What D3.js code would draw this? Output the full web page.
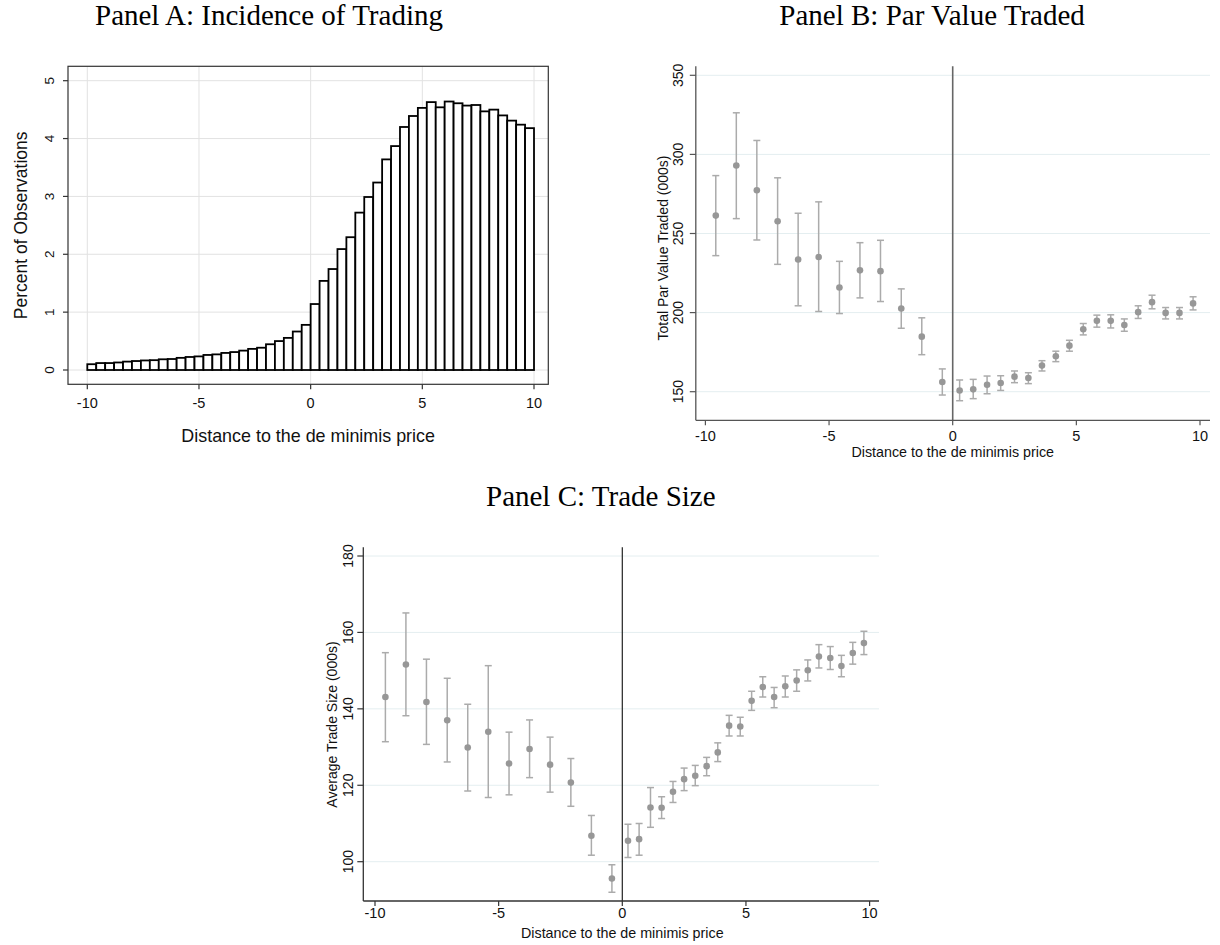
<!DOCTYPE html>
<meta charset="utf-8">
<style>
  body { margin: 0; background: white; }
  svg { display: block; background: white; }
  .title { font-family: "Liberation Serif", "Times New Roman", serif; font-size: 29px; fill: #000; }
  .tick-label { font-family: "Liberation Sans", Arial, sans-serif; fill: #111; }
  .axis-title { font-family: "Liberation Sans", Arial, sans-serif; fill: #111; }
</style>
<body>
<div id="chart"></div>
<script src="https://d3js.org/d3.v7.min.js"></script>
<script>
// ---- data ----
// Panel A: histogram, 50 bins of width 0.4 from -10 to 10
var binWidth = 0.4;
var histPct = [0.10, 0.12, 0.12, 0.13, 0.145, 0.155, 0.165, 0.17, 0.185, 0.19,
               0.21, 0.225, 0.235, 0.26, 0.27, 0.295, 0.31, 0.335, 0.365, 0.385,
               0.445, 0.50, 0.555, 0.665, 0.78, 1.14, 1.54, 1.745, 2.09, 2.295,
               2.72, 2.99, 3.24, 3.64, 3.87, 4.20, 4.39, 4.53, 4.63, 4.54,
               4.64, 4.61, 4.57, 4.58, 4.47, 4.50, 4.40, 4.31, 4.24, 4.18];

// Panel B: total par value traded (000s), mean and 95% CI
var parX = [-9.58, -8.75, -7.92, -7.08, -6.25, -5.42, -4.58, -3.75, -2.92, -2.08, -1.25, -0.42,
            0.28, 0.83, 1.39, 1.94, 2.50, 3.06, 3.61, 4.17, 4.72, 5.28, 5.83, 6.39, 6.94, 7.50, 8.06, 8.61, 9.17, 9.72];
var parMean = [261.3, 293.0, 277.3, 257.7, 233.6, 235.1, 215.9, 226.7, 226.2, 202.6, 184.8, 156.1,
               150.8, 151.5, 154.4, 155.5, 159.5, 158.7, 166.5, 172.4, 179.1, 189.5, 194.8, 194.8, 192.2, 200.3, 206.6, 199.8, 199.8, 205.8];
var parHi = [286.6, 326.3, 308.8, 285.2, 262.8, 270.0, 232.4, 244.2, 245.7, 215.0, 196.7, 164.4,
             157.4, 157.8, 159.9, 160.1, 163.1, 162.0, 169.6, 175.6, 182.5, 193.1, 198.4, 198.6, 196.0, 204.3, 211.0, 203.2, 203.2, 210.0];
var parLo = [236.0, 259.4, 245.9, 230.5, 204.3, 200.7, 199.4, 209.3, 207.0, 190.1, 173.4, 147.9,
             144.3, 145.6, 148.7, 150.8, 155.7, 155.1, 163.1, 169.0, 175.6, 185.9, 190.8, 190.3, 188.2, 196.3, 202.4, 196.0, 196.0, 201.7];

// Panel C: average trade size (000s), mean and 95% CI
var sizeX = [-9.58, -8.75, -7.92, -7.08, -6.25, -5.42, -4.58, -3.75, -2.92, -2.08, -1.25, -0.42,
             0.23, 0.68, 1.14, 1.59, 2.05, 2.50, 2.95, 3.41, 3.86, 4.32, 4.77, 5.23, 5.68, 6.14, 6.59, 7.05, 7.50, 7.95, 8.41, 8.86, 9.32, 9.77];
var sizeMean = [143.1, 151.6, 141.8, 137.0, 129.9, 134.0, 125.7, 129.5, 125.4, 120.7, 106.8, 95.6,
                105.5, 105.9, 114.2, 114.1, 118.3, 121.6, 122.5, 125.0, 128.6, 135.6, 135.4, 142.1, 145.7, 143.1, 145.9, 147.4, 150.1, 153.7, 153.3, 151.2, 154.6, 157.2];
var sizeHi = [154.7, 165.1, 153.0, 148.0, 141.2, 151.3, 133.9, 137.1, 132.6, 127.0, 112.1, 99.2,
              109.8, 110.0, 119.4, 117.0, 121.0, 124.5, 125.2, 127.3, 131.1, 138.3, 137.8, 144.6, 148.4, 145.6, 148.6, 150.2, 152.8, 156.8, 156.3, 154.0, 157.4, 160.3];
var sizeLo = [131.4, 138.2, 130.7, 126.1, 118.5, 116.8, 117.5, 122.0, 118.2, 114.5, 101.7, 92.0,
              101.1, 101.7, 109.0, 111.3, 115.5, 118.6, 119.9, 122.5, 126.2, 132.9, 132.9, 139.6, 143.1, 140.3, 143.1, 144.6, 147.3, 150.7, 150.3, 148.4, 151.7, 154.2];

var xTicks = [-10, -5, 0, 5, 10];
var histYTicks = [0, 1, 2, 3, 4, 5];
var parYTicks = [150, 200, 250, 300, 350];
var sizeYTicks = [100, 120, 140, 160, 180];

var xLabel = "Distance to the de minimis price";

var svg = d3.select("#chart").append("svg")
    .attr("width", 1220)
    .attr("height", 945);

// ---------------- Panel A ----------------
(function() {
  var x = d3.scaleLinear().domain([-10, 10]).range([87.3, 534]);
  var y = d3.scaleLinear().domain([0, 5]).range([370, 80.7]);
  var left = 68, right = 548.3, top = 66.3, bottom = 384.3;
  var g = svg.append("g");

  g.append("text").attr("class", "title").attr("x", 95).attr("y", 25).text("Panel A: Incidence of Trading");

  // grid
  g.selectAll(".vgrid").data(xTicks).enter().append("line")
    .attr("x1", d => x(d)).attr("x2", d => x(d))
    .attr("y1", top).attr("y2", bottom)
    .attr("stroke", "#e2e2e2").attr("stroke-width", 1);
  g.selectAll(".hgrid").data(histYTicks).enter().append("line")
    .attr("x1", left).attr("x2", right)
    .attr("y1", d => y(d)).attr("y2", d => y(d))
    .attr("stroke", "#e2e2e2").attr("stroke-width", 1);

  // bars
  g.selectAll(".bar").data(histPct).enter().append("rect")
    .attr("x", (d, i) => x(-10 + i * binWidth))
    .attr("width", (d, i) => x(-10 + (i + 1) * binWidth) - x(-10 + i * binWidth))
    .attr("y", d => y(d))
    .attr("height", d => y(0) - y(d))
    .attr("fill", "white").attr("stroke", "#000").attr("stroke-width", 1.8);

  // frame
  g.append("rect").attr("x", left).attr("y", top)
    .attr("width", right - left).attr("height", bottom - top)
    .attr("fill", "none").attr("stroke", "#333").attr("stroke-width", 1.2);

  // x ticks
  g.selectAll(".xt").data(xTicks).enter().append("line")
    .attr("x1", d => x(d)).attr("x2", d => x(d))
    .attr("y1", bottom).attr("y2", bottom + 5)
    .attr("stroke", "#333").attr("stroke-width", 1.2);
  g.selectAll(".xl").data(xTicks).enter().append("text")
    .attr("class", "tick-label").attr("font-size", 14.5)
    .attr("x", d => x(d)).attr("y", 408.3).attr("text-anchor", "middle")
    .text(d => d);

  // y ticks
  g.selectAll(".yt").data(histYTicks).enter().append("line")
    .attr("x1", left - 5).attr("x2", left)
    .attr("y1", d => y(d)).attr("y2", d => y(d))
    .attr("stroke", "#333").attr("stroke-width", 1.2);
  g.selectAll(".yl").data(histYTicks).enter().append("text")
    .attr("class", "tick-label").attr("font-size", 13.5)
    .attr("text-anchor", "middle")
    .attr("transform", d => "translate(54," + y(d) + ") rotate(-90)")
    .text(d => d);

  g.append("text").attr("class", "axis-title").attr("font-size", 17.9)
    .attr("x", (left + right) / 2).attr("y", 441.7).attr("text-anchor", "middle")
    .text(xLabel);
  g.append("text").attr("class", "axis-title").attr("font-size", 17.5)
    .attr("text-anchor", "middle")
    .attr("transform", "translate(27," + (top + bottom) / 2 + ") rotate(-90)")
    .text("Percent of Observations");
})();

// ------------- dot + CI panels -------------
function ciPanel(opt) {
  var x = d3.scaleLinear().domain([-10, 10]).range(opt.xRange);
  var y = d3.scaleLinear().domain(opt.yDomain).range(opt.yRange);
  var g = svg.append("g");

  g.append("text").attr("class", "title").attr("x", opt.titleX).attr("y", opt.titleY).text(opt.title);

  g.selectAll(".hgrid").data(opt.yTicks).enter().append("line")
    .attr("x1", opt.left).attr("x2", opt.right)
    .attr("y1", d => y(d)).attr("y2", d => y(d))
    .attr("stroke", "#e4eef0").attr("stroke-width", 1);

  // zero reference line
  g.append("line")
    .attr("x1", x(0)).attr("x2", x(0))
    .attr("y1", opt.top).attr("y2", opt.bottom)
    .attr("stroke", opt.zeroColor).attr("stroke-width", opt.zeroWidth);

  var pts = opt.xs.map((v, i) => ({x: v, m: opt.mean[i], lo: opt.lo[i], hi: opt.hi[i]}));

  var cap = 3.5;
  var eb = g.selectAll(".eb").data(pts).enter().append("g")
    .attr("stroke", "#ababab").attr("stroke-width", 1.5);
  eb.append("line").attr("x1", d => x(d.x)).attr("x2", d => x(d.x))
    .attr("y1", d => y(d.lo)).attr("y2", d => y(d.hi));
  eb.append("line").attr("x1", d => x(d.x) - cap).attr("x2", d => x(d.x) + cap)
    .attr("y1", d => y(d.hi)).attr("y2", d => y(d.hi));
  eb.append("line").attr("x1", d => x(d.x) - cap).attr("x2", d => x(d.x) + cap)
    .attr("y1", d => y(d.lo)).attr("y2", d => y(d.lo));

  g.selectAll(".pt").data(pts).enter().append("circle")
    .attr("cx", d => x(d.x)).attr("cy", d => y(d.m)).attr("r", 3.3)
    .attr("fill", "#979797");

  // axes lines
  g.append("line").attr("x1", opt.left).attr("x2", opt.left)
    .attr("y1", opt.top).attr("y2", opt.bottom)
    .attr("stroke", opt.axisColor).attr("stroke-width", 1.3);
  g.append("line").attr("x1", opt.left).attr("x2", opt.right)
    .attr("y1", opt.bottom).attr("y2", opt.bottom)
    .attr("stroke", opt.axisColor).attr("stroke-width", 1.3);

  g.selectAll(".xt").data(xTicks).enter().append("line")
    .attr("x1", d => x(d)).attr("x2", d => x(d))
    .attr("y1", opt.bottom).attr("y2", opt.bottom + 5)
    .attr("stroke", opt.axisColor).attr("stroke-width", 1.2);
  g.selectAll(".xl").data(xTicks).enter().append("text")
    .attr("class", "tick-label").attr("font-size", 14.5)
    .attr("x", d => x(d)).attr("y", opt.xLabelY).attr("text-anchor", "middle")
    .text(d => d);

  g.selectAll(".yt").data(opt.yTicks).enter().append("line")
    .attr("x1", opt.left - 6).attr("x2", opt.left)
    .attr("y1", d => y(d)).attr("y2", d => y(d))
    .attr("stroke", opt.axisColor).attr("stroke-width", 1.2);
  g.selectAll(".yl").data(opt.yTicks).enter().append("text")
    .attr("class", "tick-label").attr("font-size", 14)
    .attr("text-anchor", "middle")
    .attr("transform", d => "translate(" + opt.yLabelX + "," + y(d) + ") rotate(-90)")
    .text(d => d);

  g.append("text").attr("class", "axis-title").attr("font-size", 14.3)
    .attr("x", x(0)).attr("y", opt.xTitleY).attr("text-anchor", "middle")
    .text(xLabel);
  g.append("text").attr("class", "axis-title").attr("font-size", 14)
    .attr("text-anchor", "middle")
    .attr("transform", "translate(" + opt.yTitleX + "," + opt.yTitleCenter + ") rotate(-90)")
    .text(opt.yTitle);
}

ciPanel({
  title: "Panel B: Par Value Traded", titleX: 779.3, titleY: 25,
  xRange: [705.4, 1200], yDomain: [150, 350], yRange: [391.7, 75.3],
  left: 695.8, right: 1210, top: 66.3, bottom: 420.3,
  yTicks: parYTicks, xs: parX, mean: parMean, lo: parLo, hi: parHi,
  zeroColor: "#666", zeroWidth: 1.6, axisColor: "#555",
  xLabelY: 440.7, xTitleY: 456.7, yLabelX: 683.3, yTitleX: 668, yTitleCenter: 248,
  yTitle: "Total Par Value Traded (000s)"
});

ciPanel({
  title: "Panel C: Trade Size", titleX: 486, titleY: 506,
  xRange: [375, 869.6], yDomain: [100, 180], yRange: [861.7, 556],
  left: 363.3, right: 879, top: 547.3, bottom: 901,
  yTicks: sizeYTicks, xs: sizeX, mean: sizeMean, lo: sizeLo, hi: sizeHi,
  zeroColor: "#222", zeroWidth: 1.2, axisColor: "#333",
  xLabelY: 918, xTitleY: 938, yLabelX: 353.3, yTitleX: 337, yTitleCenter: 724.5,
  yTitle: "Average Trade Size (000s)"
});
</script>
</body>
